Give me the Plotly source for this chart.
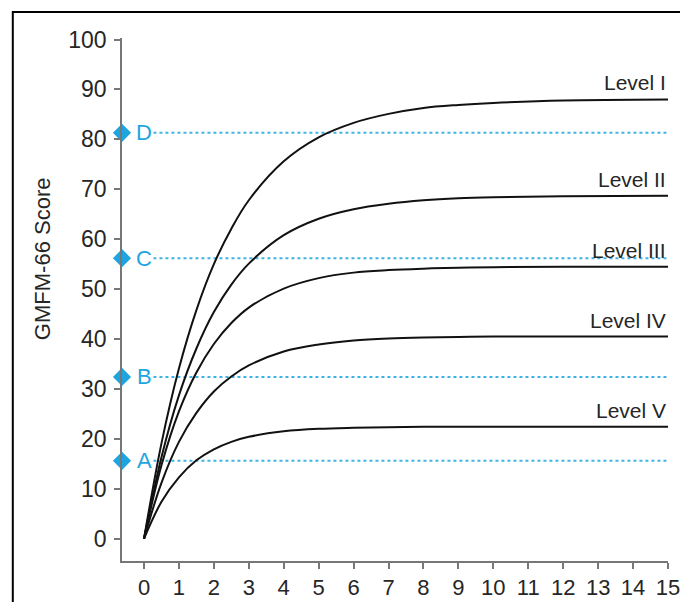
import plotly.graph_objects as go

# ---- data ----
years = [0, 0.5, 1, 1.5, 2, 2.5, 3, 4, 5, 6, 7, 8, 9, 10, 12, 15]
level_names = ["Level I", "Level II", "Level III", "Level IV", "Level V"]
level_1 = [0, 19.1, 34.1, 45.8, 55.0, 62.1, 67.8, 75.6, 80.4, 83.3, 85.1, 86.3, 86.9, 87.3, 87.8, 88.0]
level_2 = [0, 16.3, 28.7, 38.1, 45.4, 50.9, 55.1, 60.8, 64.1, 66.0, 67.1, 67.8, 68.2, 68.4, 68.6, 68.7]
level_3 = [0, 14.7, 25.5, 33.3, 39.0, 43.2, 46.3, 50.1, 52.2, 53.3, 53.8, 54.1, 54.3, 54.4, 54.5, 54.5]
level_4 = [0, 11.2, 19.4, 25.2, 29.5, 32.5, 34.7, 37.5, 38.9, 39.7, 40.1, 40.3, 40.4, 40.5, 40.5, 40.5]
level_5 = [0, 7.4, 12.3, 15.7, 17.9, 19.4, 20.4, 21.5, 22.0, 22.2, 22.3, 22.4, 22.4, 22.4, 22.4, 22.4]
levels = [level_1, level_2, level_3, level_4, level_5]

marker_labels = ["A", "B", "C", "D"]
marker_values = [15.6, 32.4, 56.2, 81.3]

x_ticks = list(range(0, 16))
y_ticks = list(range(0, 101, 10))

X_MIN, X_MAX = -0.63, 15
Y_MIN, Y_MAX = -4.47, 100.3
CYAN = "#1ea5e0"
FONT = "Liberation Sans"
TXT = "#262626"

fig = go.Figure()

# dotted reference lines
for lab, v in zip(marker_labels, marker_values):
    fig.add_trace(go.Scatter(x=[0.27, X_MAX], y=[v, v], mode="lines",
                             line=dict(color="#3fb4e4", width=2, dash="dot"),
                             hoverinfo="skip", showlegend=False, cliponaxis=False))

# curves
for name, vals in zip(level_names, levels):
    fig.add_trace(go.Scatter(x=years, y=vals, mode="lines", name=name,
                             line=dict(color="#111111", width=2, shape="spline", smoothing=1.0),
                             showlegend=False))

# diamonds on the axis
fig.add_trace(go.Scatter(x=[X_MIN] * len(marker_values), y=marker_values, mode="markers",
                         marker=dict(symbol="diamond", size=14, color=CYAN),
                         cliponaxis=False, showlegend=False, hoverinfo="skip"))

annotations = []
for lab, v in zip(marker_labels, marker_values):
    annotations.append(dict(x=0.0, y=v, xref="x", yref="y", text=lab, showarrow=False,
                            font=dict(family=FONT, size=22, color=CYAN),
                            xanchor="center", yanchor="middle"))
for name, vals in zip(level_names, levels):
    annotations.append(dict(x=X_MAX, y=vals[-1], xref="x", yref="y", text=name, showarrow=False,
                            font=dict(family=FONT, size=21, color=TXT),
                            xanchor="right", yanchor="bottom", yshift=3))
annotations.append(dict(x=-0.1466, y=0.579, xref="paper", yref="paper", text="GMFM-66 Score",
                        textangle=-90, showarrow=False,
                        font=dict(family=FONT, size=22, color=TXT),
                        xanchor="center", yanchor="middle"))

fig.update_layout(
    width=680, height=602,
    margin=dict(l=122, r=12, t=38, b=41, autoexpand=False),
    plot_bgcolor="white", paper_bgcolor="white",
    annotations=annotations,
    shapes=[dict(type="rect", xref="paper", yref="paper",
                 x0=-0.2, y0=-0.3, x1=1.2, y1=1.0497,
                 line=dict(color="black", width=2), layer="below")],
    font=dict(family=FONT, size=20, color=TXT),
)
fig.update_xaxes(range=[X_MIN, X_MAX], tickvals=x_ticks, showgrid=False, zeroline=False,
                 showline=True, linecolor="#777777", linewidth=1.5, automargin=False,
                 ticks="outside", ticklen=6, tickcolor="#777777", tickwidth=1.5,
                 ticklabeloverflow="allow",
                 tickfont=dict(family=FONT, size=22, color=TXT))
fig.update_yaxes(range=[Y_MIN, Y_MAX], tickvals=y_ticks, showgrid=False, zeroline=False,
                 showline=True, linecolor="#777777", linewidth=1.5, automargin=False,
                 ticks="outside", ticklen=6, tickcolor="#777777", tickwidth=1.5,
                 ticklabelstandoff=3, ticklabeloverflow="allow",
                 tickfont=dict(family=FONT, size=23, color=TXT))

fig.write_html("out.html")
